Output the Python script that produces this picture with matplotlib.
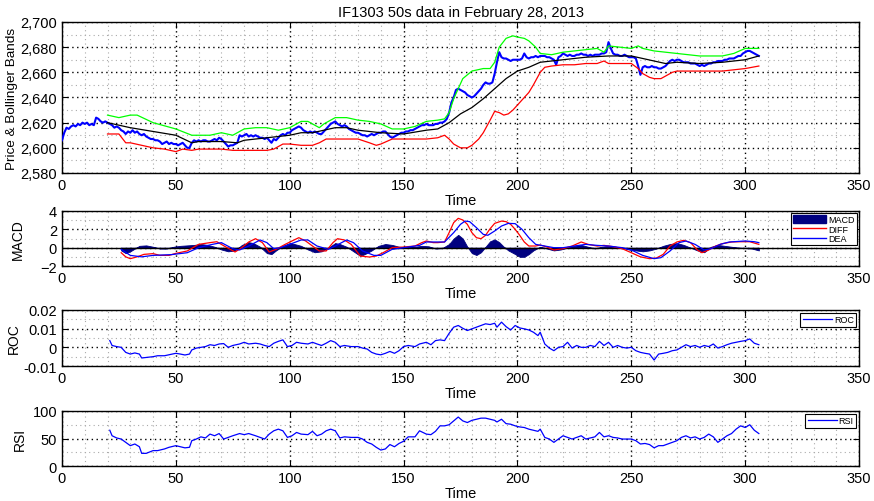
import matplotlib
matplotlib.use("Agg")
import matplotlib.pyplot as plt
from matplotlib.ticker import MultipleLocator, FuncFormatter
from matplotlib.patches import Patch
from matplotlib.lines import Line2D
import numpy as np

plt.rcParams["font.family"] = ["Liberation Sans", "DejaVu Sans"]

# price, one value per time unit starting at t=0
price = [2606, 2612, 2616, 2615, 2617, 2618, 2617, 2619, 2618, 2620,
         2619, 2620, 2618, 2619, 2618, 2624, 2623, 2621, 2620, 2621,
         2620, 2619, 2618, 2616, 2617, 2616, 2614, 2613, 2611, 2613,
         2612, 2614, 2612, 2613, 2611, 2610, 2611, 2609, 2608, 2607,
         2607, 2606, 2606, 2605, 2603, 2604, 2605, 2603, 2604, 2603,
         2603, 2602, 2603, 2604, 2602, 2600, 2600, 2604, 2606, 2605,
         2606, 2605, 2606, 2606, 2605, 2605, 2606, 2607, 2606, 2608,
         2607, 2605, 2603, 2601, 2602, 2602, 2603, 2604, 2610, 2609,
         2610, 2611, 2609, 2610, 2609, 2610, 2609, 2608, 2608, 2607,
         2608, 2606, 2604, 2607, 2606, 2608, 2610, 2611, 2610, 2612,
         2612, 2614, 2615, 2616, 2617, 2616, 2614, 2613, 2612, 2613,
         2612, 2613, 2612, 2611, 2611, 2613, 2615, 2617, 2619, 2620,
         2621, 2619, 2618, 2617, 2618, 2617, 2615, 2614, 2613, 2612,
         2612, 2611, 2610, 2610, 2609, 2610, 2611, 2610, 2611, 2612,
         2612, 2613, 2613, 2611, 2609, 2608, 2609, 2610, 2611, 2612,
         2612, 2613, 2613, 2614, 2614, 2615, 2616, 2617, 2618, 2618,
         2619, 2618, 2618, 2618, 2619, 2619, 2620, 2620, 2621, 2623,
         2628, 2636, 2640, 2646, 2647, 2646, 2645, 2644, 2642, 2641,
         2640, 2641, 2643, 2645, 2647, 2650, 2652, 2651, 2651, 2652,
         2659, 2668, 2676, 2672, 2671, 2671, 2670, 2669, 2670, 2670,
         2670, 2670, 2671, 2675, 2672, 2671, 2672, 2672, 2673, 2672,
         2673, 2673, 2673, 2672, 2672, 2671, 2670, 2666, 2672, 2673,
         2675, 2674, 2673, 2674, 2673, 2673, 2674, 2674, 2675, 2674,
         2674, 2673, 2674, 2673, 2674, 2674, 2674, 2675, 2675, 2676,
         2684, 2679, 2675, 2674, 2674, 2673, 2673, 2674, 2673, 2672,
         2672, 2672, 2671, 2665, 2658, 2664, 2665, 2664, 2664, 2665,
         2664, 2664, 2663, 2663, 2664, 2665, 2667, 2669, 2670, 2669,
         2670, 2670, 2669, 2668, 2668, 2668, 2667, 2667, 2667, 2666,
         2665, 2666, 2665, 2666, 2667, 2667, 2668, 2668, 2669, 2669,
         2669, 2670, 2670, 2671, 2671, 2671, 2672, 2673, 2673, 2675,
         2676, 2677, 2677, 2676, 2675, 2674, 2673]

mid_t = [20, 30, 40, 50, 57, 60, 70, 77, 80, 90, 100, 105, 110, 120, 125, 130, 140, 150, 160, 165,
         170, 175, 180, 185, 190, 195, 200, 205, 210, 215, 220, 230, 240, 250, 255, 260, 265, 270,
         280, 290, 300, 306]
mid_v = [2620, 2616, 2613, 2610, 2604, 2605, 2605, 2604, 2606, 2608, 2610, 2612, 2612, 2616, 2616,
         2614, 2612, 2611, 2614, 2615, 2620, 2627, 2632, 2639, 2647, 2655, 2661, 2664, 2668, 2669,
         2670, 2672, 2673, 2673, 2671, 2669, 2667, 2668, 2667, 2668, 2670, 2673]

up_t = [20, 25, 30, 33, 40, 50, 57, 60, 65, 70, 75, 78, 80, 85, 90, 95, 100, 105, 108, 110, 113,
        115, 120, 125, 130, 135, 140, 145, 150, 155, 160, 165, 168, 170, 172, 174, 176, 180, 185,
        188, 190, 192, 195, 198, 200, 203, 205, 208, 210, 215, 220, 225, 230, 235, 238, 240, 245,
        250, 253, 255, 260, 270, 280, 290, 295, 300, 306]
up_v = [2626, 2624, 2626, 2626, 2620, 2615, 2610, 2610, 2610, 2612, 2610, 2613, 2615, 2616, 2616,
        2614, 2616, 2621, 2621, 2619, 2616, 2619, 2624, 2624, 2622, 2621, 2619, 2615, 2615, 2617,
        2621, 2622, 2623, 2628, 2639, 2647, 2655, 2661, 2663, 2663, 2668, 2680, 2687, 2689, 2688,
        2687, 2685, 2680, 2675, 2674, 2676, 2677, 2678, 2679, 2676, 2681, 2680, 2679, 2681, 2679,
        2677, 2675, 2673, 2673, 2675, 2679, 2679]

lo_t = [20, 25, 28, 30, 35, 40, 45, 50, 53, 57, 60, 70, 75, 80, 90, 93, 97, 100, 105, 110, 113,
        116, 120, 125, 130, 135, 138, 140, 145, 150, 160, 165, 168, 170, 172, 175, 178, 180, 183,
        185, 188, 190, 192, 194, 196, 198, 200, 203, 205, 207, 210, 212, 215, 220, 225, 230, 235,
        238, 240, 245, 250, 253, 255, 258, 260, 263, 265, 268, 270, 280, 290, 295, 300, 306]
lo_v = [2611, 2611, 2604, 2604, 2602, 2600, 2599, 2597, 2599, 2598, 2599, 2599, 2598, 2598, 2598,
        2599, 2603, 2603, 2602, 2602, 2604, 2607, 2607, 2607, 2607, 2604, 2602, 2603, 2607, 2607,
        2607, 2608, 2610, 2607, 2603, 2600, 2600, 2602, 2607, 2612, 2622, 2629, 2628, 2626, 2627,
        2630, 2634, 2640, 2644, 2650, 2660, 2664, 2665, 2666, 2666, 2667, 2667, 2669, 2667, 2667,
        2667, 2663, 2659, 2656, 2655, 2655, 2657, 2660, 2661, 2661, 2661, 2662, 2663, 2665]

# MACD
diff_t = [26, 28, 30, 33, 36, 40, 43, 47, 50, 55, 60, 65, 68, 72, 76, 79, 82, 85, 88, 91, 94, 98,
          101, 104, 107, 110, 113, 116, 119, 121, 124, 127, 131, 135, 138, 141, 145, 150, 155, 158,
          160, 163, 165, 168, 170, 172, 174, 176, 178, 180, 182, 184, 186, 188, 190, 193, 195, 197,
          199, 201, 203, 205, 208, 210, 213, 216, 220, 224, 228, 231, 235, 238, 242, 246, 250, 254,
          258, 261, 264, 267, 270, 273, 276, 279, 281, 284, 287, 290, 294, 298, 302, 306]
diff_v = [-0.55, -1.0, -1.2, -1.0, -0.73, -0.65, -0.84, -0.84, -0.62, -0.36, 0.36, 0.55, 0.65,
          0.07, -0.47, 0.0, 0.62, 0.98, 0.55, -0.47, -0.18, 0.36, 0.73, 1.09, 0.73, 0.18, -0.36,
          -0.36, 0.55, 0.98, 0.84, 0.36, -0.91, -1.02, -0.91, -0.55, 0.0, 0.07, 0.18, 0.55, 0.73,
          0.55, 0.55, 0.62, 1.64, 2.73, 3.2, 3.02, 2.55, 1.64, 1.09, 0.98, 1.35, 2.07, 2.65, 2.9,
          2.84, 2.55, 2.0, 1.35, 0.62, 0.18, 0.18, 0.29, 0.07, -0.25, -0.11, 0.18, 0.62, 0.36, 0.18,
          0.25, 0.11, -0.11, -0.55, -1.0, -1.2, -1.13, -0.73, 0.18, 0.62, 0.8, 0.55, -0.25, -0.55,
          -0.25, 0.18, 0.44, 0.62, 0.65, 0.65, 0.36]

dea_t = [26, 30, 35, 40, 48, 55, 60, 66, 70, 75, 78, 82, 87, 90, 93, 96, 100, 105, 108, 112, 117,
         120, 125, 128, 132, 137, 140, 145, 150, 157, 160, 165, 168, 172, 175, 177, 179, 182, 185,
         187, 190, 193, 196, 199, 202, 205, 208, 212, 216, 220, 225, 230, 235, 240, 246, 250, 255,
         260, 263, 267, 271, 274, 278, 282, 285, 289, 293, 300, 304, 306]
dea_v = [-0.18, -0.84, -1.0, -0.84, -0.76, -0.55, 0.0, 0.36, 0.55, -0.11, -0.25, 0.18, 0.84, 0.55,
         -0.11, 0.0, 0.36, 0.84, 0.84, 0.18, -0.18, 0.18, 0.84, 0.55, -0.36, -0.84, -0.84, -0.18,
         0.0, 0.25, 0.62, 0.62, 0.62, 1.64, 2.55, 2.9, 2.84, 2.18, 1.45, 1.35, 1.82, 2.36, 2.65,
         2.62, 2.0, 1.09, 0.36, 0.18, 0.0, 0.0, 0.18, 0.36, 0.25, 0.18, 0.0, -0.25, -0.84, -1.2,
         -1.09, -0.36, 0.55, 0.73, 0.36, -0.25, -0.11, 0.36, 0.62, 0.73, 0.65, 0.55]

hist_t = [26, 28, 30, 32, 34, 37, 40, 43, 46, 49, 52, 55, 58, 61, 64, 67, 70, 73, 76, 79, 82, 84,
          87, 90, 92, 94, 97, 100, 102, 105, 108, 111, 114, 117, 120, 122, 125, 128, 131, 133, 136,
          139, 142, 145, 148, 151, 155, 158, 161, 164, 167, 170, 172, 174, 176, 178, 180, 182, 184,
          186, 188, 190, 192, 194, 196, 199, 201, 203, 205, 207, 210, 213, 216, 219, 222, 225, 228,
          231, 234, 237, 240, 243, 246, 249, 252, 255, 258, 261, 264, 267, 270, 273, 276, 279, 282,
          285, 288, 291, 294, 297, 300, 303, 306]
hist_v = [-0.3, -0.6, -0.4, -0.1, 0.2, 0.25, 0.1, -0.1, -0.1, 0.1, 0.2, 0.25, 0.3, 0.4, 0.3, 0.1,
          -0.2, -0.4, -0.3, 0.3, 0.6, 0.5, 0.1, -0.6, -0.7, -0.3, 0.2, 0.5, 0.4, 0.2, -0.2, -0.5,
          -0.4, 0.0, 0.5, 0.4, 0.1, -0.4, -0.9, -0.7, -0.3, 0.2, 0.4, 0.3, 0.1, 0.05, 0.1, 0.2, 0.15,
          -0.1, -0.05, 0.4, 1.0, 1.4, 1.0, 0.1, -0.6, -0.8, -0.5, 0.1, 0.7, 0.9, 0.6, 0.1, -0.3,
          -0.7, -1.0, -1.0, -0.7, -0.3, 0.1, -0.1, -0.3, -0.2, 0.0, 0.2, 0.3, 0.1, -0.1, 0.1, 0.2,
          0.1, 0.0, -0.2, -0.3, -0.4, -0.3, -0.1, 0.2, 0.4, 0.5, 0.3, 0.0, -0.3, -0.5, 0.1, 0.3, 0.2,
          0.1, 0.0, -0.05, -0.1, -0.3]

# ROC and RSI
ind_t = [21, 22, 24, 26, 28, 30, 32, 34, 35, 37, 40, 42, 45, 47, 50, 52, 54, 56, 57, 59, 61, 63,
         65, 67, 69, 71, 73, 75, 78, 80, 82, 85, 87, 89, 91, 93, 95, 97, 99, 101, 103, 105, 108,
         110, 112, 114, 116, 118, 120, 122, 124, 127, 130, 132, 134, 136, 138, 140, 142, 144, 146,
         148, 150, 152, 155, 157, 160, 162, 164, 166, 168, 170, 172, 174, 176, 178, 180, 182, 184,
         186, 188, 190, 191, 193, 195, 197, 199, 201, 203, 205, 207, 209, 210, 212, 214, 216, 218,
         220, 222, 224, 226, 228, 230, 232, 234, 236, 238, 240, 242, 244, 246, 248, 250, 252, 254,
         256, 258, 260, 262, 264, 266, 268, 270, 272, 274, 276, 278, 280, 282, 284, 286, 288, 290,
         292, 294, 296, 298, 300, 302, 304, 306]
roc_v = [0.0036, 0.001, 0.0004, 0.0, -0.0027, -0.0036, -0.003, -0.0036, -0.0057, -0.0054, -0.005,
         -0.0045, -0.0045, -0.004, -0.0032, -0.0036, -0.0041, -0.0036, -0.0014, -0.0004, 0.0,
         0.0004, 0.0014, 0.001, 0.0018, 0.002, 0.0, 0.001, 0.0018, 0.0027, 0.0018, 0.0022, 0.0018,
         0.001, 0.0004, 0.0022, 0.0032, 0.004, 0.0004, 0.001, 0.0027, 0.0022, 0.0018, 0.0027,
         0.0018, 0.001, 0.0022, 0.0036, 0.0027, 0.0004, 0.001, 0.0004, 0.0004, -0.0004, -0.0009,
         -0.0027, -0.0036, -0.004, -0.0032, -0.0022, -0.0032, -0.0018, 0.0004, 0.001, 0.0004,
         0.0018, 0.0027, 0.0014, 0.0036, 0.004, 0.0036, 0.0075, 0.0108, 0.0117, 0.0102, 0.009,
         0.0099, 0.0108, 0.0117, 0.0126, 0.0122, 0.0129, 0.0108, 0.0135, 0.0111, 0.0093, 0.0117,
         0.0104, 0.0099, 0.0093, 0.0081, 0.0063, 0.0081, 0.0018, -0.0004, -0.0018, 0.0, 0.0004,
         0.0027, -0.0004, 0.001, 0.0, 0.0, 0.001, 0.0004, 0.0032, 0.001, 0.0027, 0.0, 0.001, 0.0,
         -0.0004, 0.0, -0.0018, -0.0027, -0.0032, -0.0036, -0.0068, -0.0036, -0.0032, -0.0027,
         -0.0018, -0.0014, 0.0, 0.0014, 0.0004, 0.001, 0.0, 0.001, 0.0004, 0.0018, -0.0004, 0.0004,
         0.0014, 0.0022, 0.0027, 0.0032, 0.0036, 0.0045, 0.0022, 0.0014]
rsi_v = [65, 55, 51, 49, 43, 37, 40, 35, 23, 23, 28, 28, 31, 34, 37, 35, 33, 34, 46, 49, 53, 51,
         58, 55, 59, 49, 52, 55, 59, 57, 59, 55, 52, 49, 58, 64, 67, 64, 52, 55, 61, 58, 57, 63, 55,
         58, 64, 67, 64, 51, 53, 52, 52, 49, 43, 40, 34, 29, 31, 39, 35, 41, 45, 53, 53, 64, 58,
         57, 63, 73, 73, 75, 82, 89, 82, 79, 83, 85, 87, 87, 85, 83, 80, 85, 77, 76, 73, 71, 70,
         67, 65, 63, 67, 52, 49, 43, 49, 55, 52, 49, 52, 55, 49, 51, 53, 61, 53, 55, 52, 51, 49,
         49, 49, 46, 40, 41, 39, 33, 37, 37, 40, 43, 46, 52, 55, 51, 53, 49, 52, 58, 53, 43, 49,
         55, 59, 67, 73, 70, 75, 65, 59]

BLUE = "#0000ff"; RED = "#ff0000"; GREEN = "#00ff00"; NAVY = "#000080"
FS = 10.5

fig = plt.figure(figsize=(8.74, 5.02), dpi=100)
L, W = 0.0709, 0.912
ax1 = fig.add_axes([L, 0.6534, W, 0.3008])
ax2 = fig.add_axes([L, 0.4681, W, 0.1096])
ax3 = fig.add_axes([L, 0.2689, W, 0.1116])
ax4 = fig.add_axes([L, 0.0697, W, 0.1096])

def style(ax, ymaj, ymin):
    ax.set_xlim(0, 350)
    ax.xaxis.set_major_locator(MultipleLocator(50))
    ax.xaxis.set_minor_locator(MultipleLocator(10))
    ax.yaxis.set_major_locator(MultipleLocator(ymaj))
    ax.yaxis.set_minor_locator(MultipleLocator(ymin))
    ax.grid(True, which="major", ls=(0, (1, 2.5)), color="black", lw=1.0, zorder=0)
    ax.grid(True, which="minor", ls=(0, (1, 3)), color="#aaaaaa", lw=0.8, zorder=0)
    ax.tick_params(which="both", direction="in", top=True, right=True, labelsize=FS)
    ax.tick_params(which="major", length=4)
    ax.tick_params(which="minor", length=0)
    for s in ax.spines.values():
        s.set_linewidth(1.0)
    ax.set_xlabel("Time", fontsize=FS, labelpad=1)
    ax.set_axisbelow(True)

# price panel
tp = np.arange(len(price))
ax1.plot(tp, price, color=BLUE, lw=1.5, zorder=3)
ax1.plot(mid_t, mid_v, color="black", lw=0.9, zorder=4)
ax1.plot(up_t, up_v, color=GREEN, lw=0.9, zorder=4)
ax1.plot(lo_t, lo_v, color=RED, lw=0.9, zorder=4)
style(ax1, 20, 10)
ax1.set_ylim(2580, 2700)
ax1.yaxis.set_major_formatter(FuncFormatter(lambda v, p: f"{int(v):,}"))
ax1.set_ylabel("Price & Bollinger Bands", fontsize=9.7)
ax1.set_title("IF1303 50s data in February 28, 2013", fontsize=FS, pad=4)

# MACD panel
ax2.fill_between(hist_t, hist_v, 0, color=NAVY, lw=0.6, zorder=2)
ax2.axhline(0, color="black", lw=1.0, zorder=3)
ax2.plot(diff_t, diff_v, color=RED, lw=0.9, zorder=4)
ax2.plot(dea_t, dea_v, color=BLUE, lw=0.9, zorder=4)
style(ax2, 2, 1)
ax2.set_ylim(-2, 4)
ax2.set_ylabel("MACD", fontsize=10)
h = [Patch(facecolor=NAVY, edgecolor=NAVY), Line2D([], [], color=RED, lw=1), Line2D([], [], color=BLUE, lw=1)]
lg = ax2.legend(h, ["MACD", "DIFF", "DEA"], loc="upper right", fontsize=6.5, fancybox=False,
                framealpha=1, edgecolor="black", borderpad=0.2, labelspacing=0.05,
                handlelength=3.6, handleheight=0.9, handletextpad=0.3, borderaxespad=0.25)
lg.get_frame().set_linewidth(0.8)

# ROC panel
ax3.plot(ind_t, roc_v, color=BLUE, lw=0.9, label="ROC")
style(ax3, 0.01, 0.005)
ax3.set_ylim(-0.01, 0.02)
ax3.yaxis.set_major_formatter(FuncFormatter(lambda v, p: "0" if abs(v) < 1e-9 else f"{v:g}"))
ax3.set_ylabel("ROC", fontsize=10)

# RSI panel
ax4.plot(ind_t, rsi_v, color=BLUE, lw=0.9, label="RSI")
style(ax4, 50, 25)
ax4.set_ylim(0, 100)
ax4.set_ylabel("RSI", fontsize=10)

for ax in (ax3, ax4):
    lg = ax.legend(loc="upper right", fontsize=6.5, fancybox=False, framealpha=1,
                   edgecolor="black", borderpad=0.3, handlelength=3.2, handletextpad=0.2,
                   borderaxespad=0.3)
    lg.get_frame().set_linewidth(0.8)

ax1.yaxis.set_label_coords(-0.055, 0.5)
ax2.yaxis.set_label_coords(-0.046, 0.5)
ax3.yaxis.set_label_coords(-0.051, 0.5)
ax4.yaxis.set_label_coords(-0.044, 0.5)

fig.savefig("out.png", dpi=100)
